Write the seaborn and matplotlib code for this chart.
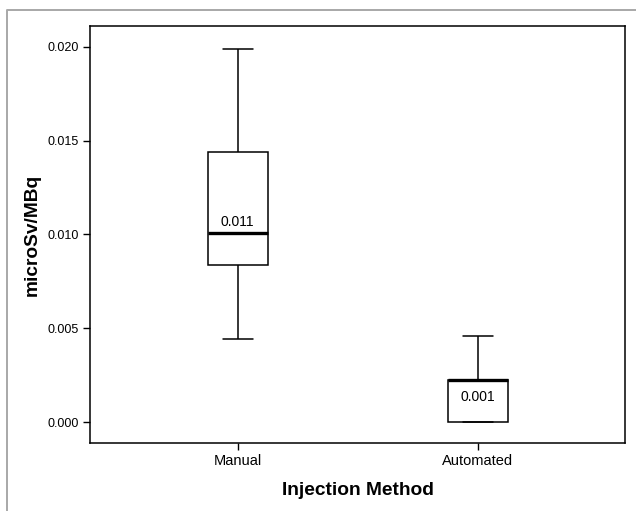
import matplotlib
matplotlib.use('Agg')
import matplotlib.pyplot as plt
from matplotlib.lines import Line2D
import seaborn as sns
import pandas as pd

# five-number summaries (min, q1, median, q3, max)
methods = ['Manual', 'Automated']
manual_vals = [0.00441, 0.00838, 0.01006, 0.01439, 0.01987]
automated_vals = [0.0, 0.0, 0.00228, 0.00228, 0.00458]
box_labels = ['0.011', '0.001']
y_ticks = [0.000, 0.005, 0.010, 0.015, 0.020]

sns.set_style("ticks", rc={
    "text.color": "black",
    "axes.labelcolor": "black",
    "xtick.color": "black",
    "ytick.color": "black",
    "axes.edgecolor": "black",
})
plt.rcParams['font.family'] = ['Liberation Sans', 'DejaVu Sans']

df = pd.DataFrame({
    'method': ['Manual'] * len(manual_vals) + ['Automated'] * len(automated_vals),
    'dose': manual_vals + automated_vals,
})

fig = plt.figure(figsize=(6.36, 5.11), dpi=100)
ax = fig.add_axes([0.1415, 0.1331, 0.8412, 0.8160])

sns.boxplot(data=df, x='method', y='dose', order=methods,
            color='white', linecolor='black', saturation=1,
            width=0.25, whis=(0, 100), linewidth=1.1,
            medianprops={'linewidth': 2.4, 'color': 'black'},
            ax=ax)

# value labels on the boxes
med_manual = sorted(manual_vals)[2]
ax.annotate(box_labels[0], xy=(0, med_manual), xytext=(0, 3),
            textcoords='offset points', ha='center', va='bottom',
            fontsize=10, color='black')
auto_sorted = sorted(automated_vals)
ax.annotate(box_labels[1], xy=(1, (auto_sorted[1] + auto_sorted[3]) / 2),
            xytext=(0, 3), textcoords='offset points',
            ha='center', va='center', fontsize=10, color='black')

ax.set_xlim(-0.615, 1.614)
ax.set_ylim(-0.0011, 0.0211)
ax.set_yticks(y_ticks)
ax.set_yticklabels([f'{t:.3f}' for t in y_ticks], fontsize=9)
ax.tick_params(axis='x', labelsize=10.5, length=5, width=1, pad=3)
ax.tick_params(axis='y', length=5, width=1, pad=3)

for spine in ax.spines.values():
    spine.set_visible(True)
    spine.set_color('black')
    spine.set_linewidth(1.1)

ax.set_xlabel('Injection Method', fontsize=13.8, fontweight='bold', labelpad=10)
ax.set_ylabel('microSv/MBq', fontsize=13.8, fontweight='bold', labelpad=5)

# gray frame of the exported chart (top and left only)
fx = 7 / 636
fy = 1 - 10 / 511
fig.add_artist(Line2D([fx, fx, 1.0], [0.0, fy, fy],
                      transform=fig.transFigure,
                      color='#a8a8a8', linewidth=1.4))

fig.savefig('out.png', dpi=100, facecolor='white')
